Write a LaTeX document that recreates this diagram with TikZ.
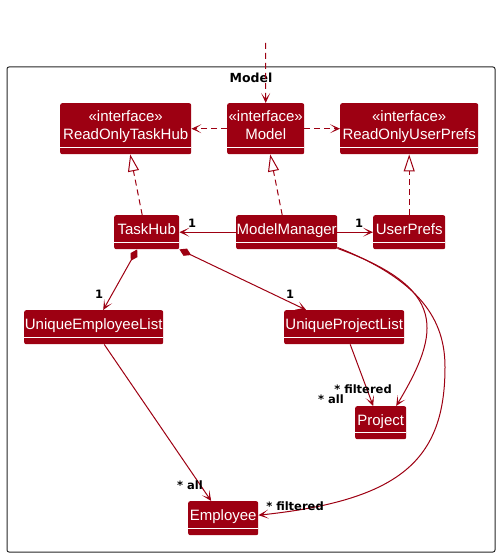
\documentclass[tikz,border=0pt]{standalone}
\usepackage{fontspec}
\setmainfont{Liberation Sans}
\newfontfamily\labelfont{DejaVu Sans}
\usepackage{tikz}
\usetikzlibrary{arrows.meta}
\definecolor{umlred}{RGB}{157,0,18}
\newcommand{\iface}[1]{\vbox{\baselineskip=18pt\halign{\hfil##\hfil\cr«interface»\cr#1\cr}}}

\tikzset{
  cls/.style={fill=umlred, text=white, rounded corners=2pt, font=\fontsize{15}{18}\selectfont,
    anchor=north west, inner xsep=0pt, inner ysep=0pt, text height=19pt, text depth=15pt,
    path picture={\draw[white, line width=1pt] ([yshift=7pt]path picture bounding box.south west) -- ([yshift=7pt]path picture bounding box.south east);}},
  ifc/.style={cls, text height=36pt},
  mult/.style={font=\labelfont\bfseries\fontsize{11.5}{13}\selectfont, inner sep=0pt},
  dep/.style={umlred, line width=1pt, dash pattern=on 6pt off 4pt, -{Stealth[length=10pt,width=9pt,inset=6pt]}},
  real/.style={umlred, line width=1pt, dash pattern=on 6pt off 4pt, -{Triangle[open,length=17pt,width=11pt,fill=white]}},
  assoc/.style={umlred, line width=1pt, -{Stealth[length=10pt,width=9pt,inset=6pt]}},
  comp/.style={umlred, line width=1pt, {Diamond[length=13pt,width=8pt]}-{Stealth[length=10pt,width=9pt,inset=6pt]}}
}

\begin{document}
\begin{tikzpicture}[x=1pt,y=-1pt]
\useasboundingbox (0,0) rectangle (500,556);
\draw[rounded corners=2pt, line width=1pt, black!85] (7,67) rectangle (495,552);
\node[font=\labelfont\bfseries\fontsize{12.5}{15}\selectfont] (title) at (251,78) {Model};
\coordinate (ext) at (265.5,43);

\node[ifc, minimum width=131pt] (rotHub) at (60,103) {\iface{ReadOnlyTaskHub}};
\node[ifc, minimum width=77pt] (model) at (227,103) {\iface{Model}};
\node[ifc, minimum width=138pt] (rotPrefs) at (340,103) {\iface{ReadOnlyUserPrefs}};
\node[cls, minimum width=65pt] (taskHub) at (114,215) {TaskHub};
\node[cls, minimum width=101pt] (mgr) at (236,215) {ModelManager};
\node[cls, minimum width=72pt] (prefs) at (373,215) {UserPrefs};
\node[cls, minimum width=139pt] (uel) at (24,310) {UniqueEmployeeList};
\node[cls, minimum width=120pt] (upl) at (284,310) {UniqueProjectList};
\node[cls, minimum width=51pt, text depth=14pt] (project) at (355,406) {Project};
\node[cls, minimum width=70pt] (employee) at (188,501) {Employee};

\draw[dep] (ext) -- (model.north);
\draw[dep] (model.west) -- (rotHub.east);
\draw[dep] (model.east) -- (rotPrefs.west);
\draw[real] ([xshift=-4.5pt]taskHub.north) -- ([xshift=4.5pt]rotHub.south);
\draw[real] ([xshift=-4.5pt]mgr.north) -- ([xshift=4.5pt]model.south);
\draw[real] (prefs.north) -- (rotPrefs.south);
\draw[assoc] (mgr.west) -- (taskHub.east);
\draw[assoc] (mgr.east) -- (prefs.west);
\draw[comp] ([xshift=-9.5pt]taskHub.south) -- ([xshift=9.5pt]uel.north);
\draw[comp] (taskHub.south east) -- ([xshift=-38pt]upl.north);
\draw[assoc] ([xshift=10.5pt]uel.south) -- ([xshift=-12pt]employee.north);
\draw[assoc] ([xshift=6pt]upl.south) -- ([xshift=-7.5pt]project.north);
\draw[assoc] ([yshift=1pt]mgr.south east) .. controls +(110,40) and +(45,-75) .. ([xshift=15.5pt]project.north);
\draw[assoc] ([yshift=2pt]mgr.south east) .. controls +(83,33) and +(0,-47) .. (445,367) .. controls +(0,93) and +(142,-15) .. ([yshift=3pt]employee.east);

\node[mult] (m1) at (192,223) {1};
\node[mult] (m2) at (359,223) {1};
\node[mult] (m3) at (99,294) {1};
\node[mult] (m4) at (290,294) {1};
\node[mult] (m5) at (190,485) {* all};
\node[mult] (m6) at (331,399) {* all};
\node[mult] (m7) at (363,389) {* filtered};
\node[mult] (m8) at (295,506) {* filtered};
\end{tikzpicture}
\end{document}
